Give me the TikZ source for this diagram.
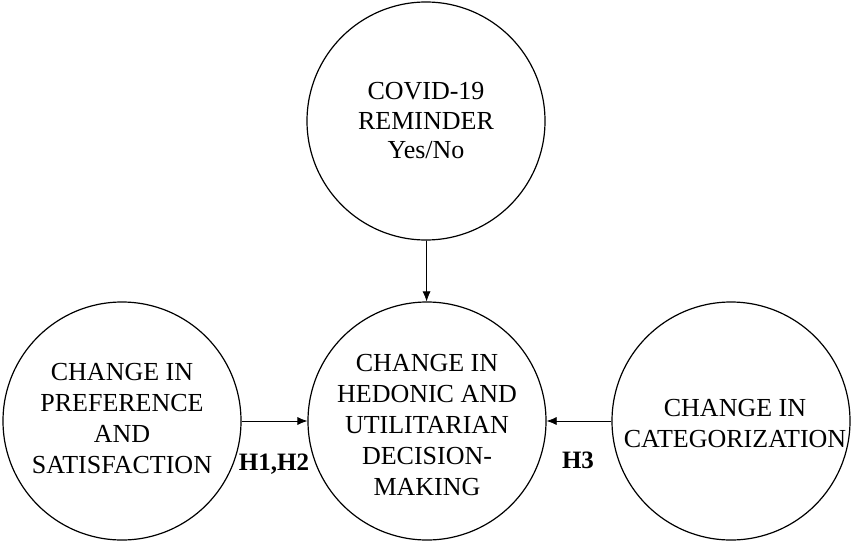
\documentclass[tikz,border=0pt]{standalone}
\usepackage{fontspec}
\setmainfont{Liberation Serif}
\usetikzlibrary{arrows.meta}

\tikzset{
  bubble/.style={draw, circle, line width=1.2pt, minimum size=238pt, inner sep=0pt,
    align=center, font=\fontsize{26}{31}\selectfont},
  arr/.style={line width=0.7pt, -{Latex[length=10pt,width=8pt]}},
  hyp/.style={font=\fontsize{25}{28}\selectfont\bfseries}
}

\begin{document}
\begin{tikzpicture}[x=1pt,y=-1pt]
\useasboundingbox (0,0) rectangle (854,543);

\node[bubble, font=\fontsize{26}{29.5}\selectfont] (reminder) at (426,121) {COVID-19\\REMINDER\\Yes/No};
\node[bubble] (hedonic) at (427,421) {};
\node[align=center, font=\fontsize{26}{31}\selectfont] (hedtext) at (427,425) {CHANGE IN\\HEDONIC AND\\UTILITARIAN\\DECISION-\\MAKING};
\node[bubble] (pref) at (122,421) {};
\node[align=center, font=\fontsize{26}{31}\selectfont] (preftext) at (122,418.5) {CHANGE IN\\PREFERENCE\\AND\\SATISFACTION};
\node[bubble] (categ) at (731,421) {};
\node[align=center, font=\fontsize{26}{31}\selectfont] (categtext) at (735,424) {CHANGE IN\\CATEGORIZATION};

\draw[arr] (reminder) -- (hedonic);
\draw[arr] (pref) -- (hedonic);
\draw[arr] (categ) -- (hedonic);

\node[hyp] (h12) at (274,464) {H1,H2};
\node[hyp] (h3) at (578,460) {H3};
\end{tikzpicture}
\end{document}
